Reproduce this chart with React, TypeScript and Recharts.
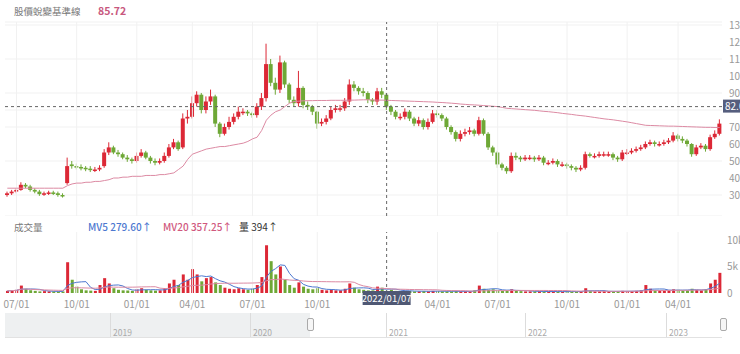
import { ComposedChart, Bar, Line, XAxis, YAxis, CartesianGrid, ReferenceLine, Cell } from "recharts";

// one slot ~ one trading week, 2020/06 .. 2023/05
const opens = [
  30, 31, 32, 33, 36, 35, 33, 32, 30.5, 31, 31.5, 31, 30,
  37, 48, 47, 46.5, 46, 45.5, 45, 45,
  47, 55, 58, 55, 54, 52, 51, 50, 53, 55,
  52, 50, 49, 50, 53, 58, 61, 58, 75, 76,
  84, 89, 80, 85, 88, 72, 66, 70, 73, 76,
  79, 79, 78, 77, 82, 87, 107, 96, 92, 108,
  95, 86, 84, 93, 83, 82, 79, 72, 73, 75,
  80, 81, 81, 85, 95, 93, 91, 90, 86, 85,
  91, 89, 82, 79, 76, 76, 79, 75, 72, 74,
  70, 73, 78, 77, 75, 70, 67, 63, 66, 67,
  68, 66, 74, 66, 58, 55, 48, 46, 44, 53,
  52, 51, 52, 52, 51, 52, 49, 49, 50, 48,
  48, 47, 46, 45, 46, 54, 53, 53, 54, 54,
  54, 52, 51, 55, 55, 56, 57, 58, 60, 61,
  60, 60, 61, 62, 65, 63, 62, 60, 54, 58,
  59, 57, 64, 66,
];
const highs = [
  32, 33, 34, 37.5, 37, 36, 34, 33, 32, 32.5, 32.5, 32, 31,
  52, 50, 48.5, 48, 47, 47, 46.5, 47.5,
  57, 61, 59, 56.5, 55, 53.5, 52, 55, 57, 56,
  53, 51.5, 51.5, 55, 60, 63, 62, 78, 80, 88,
  91, 90, 88, 92, 89, 73, 72, 76, 78, 82,
  81, 80, 79, 84, 90, 119, 110, 99, 112, 109,
  96, 88, 103, 94, 85, 83, 79.5, 75, 77, 82,
  83, 83, 87, 98, 97, 94, 93, 91, 87, 93,
  93, 90, 83, 80, 78, 81, 80, 76, 76, 75,
  75, 80, 80, 78, 76, 71, 68, 68, 69, 70,
  69, 76, 75, 67, 59, 56, 49, 47, 55, 55,
  53, 53.5, 53.5, 53, 53.5, 53, 50.5, 51.5, 51, 49.5,
  49, 48, 47, 47.5, 55.5, 55, 54.5, 55.5, 55.5, 55.5,
  55, 53, 56.5, 57, 57.5, 58.5, 59.5, 61.5, 62.5, 62,
  61.5, 62.5, 63.5, 67, 66, 64.5, 63, 60.5, 59.5, 60.5,
  60, 65.5, 68, 74.5,
];
const lows = [
  29, 30, 31, 32.5, 34, 32, 31, 29.5, 29.5, 30, 30, 29, 28.5,
  36, 45.5, 45, 44.5, 44, 43.5, 43.5, 44,
  46, 53.5, 54, 52.5, 51, 49.5, 48.5, 49, 52, 51,
  48.5, 47.5, 48, 49, 52, 57, 56, 57, 72, 75,
  82, 78, 78, 83, 70, 64, 65, 68.5, 71.5, 74.5,
  77, 76.5, 75.5, 75.5, 80, 85, 94, 89, 90, 93,
  84, 82, 82, 81, 80, 77, 69, 70.5, 71.5, 74,
  78.5, 79, 79.5, 83, 91, 89, 88, 84, 83, 83,
  87, 80, 77, 74.5, 74, 74.5, 73.5, 70.5, 70.5, 68.5,
  68.5, 72, 75.5, 73.5, 68.5, 65.5, 61.5, 61.5, 64.5, 65.5,
  64.5, 65, 65, 56.5, 53, 46, 44.5, 42.5, 43, 50.5,
  49.5, 50, 50.5, 49.5, 50, 47.5, 47.5, 48, 46.5, 46.5,
  45.5, 44.5, 43.5, 44, 45, 52, 51.5, 52, 52.5, 52.5,
  50.5, 49.5, 50, 53.5, 54, 55, 56, 57, 59, 58.5,
  58.5, 59, 60, 61, 61.5, 60.5, 58.5, 52.5, 53, 57,
  55.5, 56, 63, 65,
];
const closes = [
  31, 32, 33, 36, 35, 33, 32, 30.5, 31, 31.5, 31, 30, 29.5,
  47, 47, 46.5, 46, 45.5, 45, 45, 46,
  55, 58, 55, 54, 52, 51, 50, 53, 55, 52,
  50, 49, 50, 53, 58, 61, 57, 75, 76, 84,
  89, 80, 85, 88, 72, 66, 70, 73, 76, 79,
  79, 78, 77, 82, 87, 107, 96, 92, 108, 95,
  86, 84, 93, 83, 82, 79, 72, 73, 75, 80,
  81, 81, 85, 95, 93, 91, 90, 86, 85, 91,
  89, 82, 79, 76, 76, 79, 75, 72, 74, 70,
  73, 78, 77, 75, 70, 67, 63, 66, 67, 68,
  66, 74, 66, 58, 55, 48, 46, 44, 53, 52,
  51, 52, 52, 51, 52, 49, 49, 50, 48, 48,
  47, 46, 45, 46, 54, 53, 53, 54, 54, 54,
  52, 51, 55, 55, 56, 57, 58, 60, 61, 60,
  60, 61, 62, 65, 63, 62, 60, 54, 58, 59,
  57, 64, 66, 72,
];
const baseLine = [
  34, 34, 34, 34, 34, 34, 34, 34, 34, 34, 34, 34, 34,
  35.5, 36.5, 37, 37, 37.5, 37.5, 38, 38,
  38.5, 39, 40, 40, 40.5, 40.5, 41, 41, 41, 41.5,
  41.5, 41.5, 42, 42, 42.5, 43, 45, 47, 51, 54,
  55, 56, 57, 57.5, 58, 58.5, 58.5, 59, 59.5, 60,
  60.5, 61.5, 63, 64, 68, 74, 77, 79, 80, 82,
  84, 85, 85.2, 85.4, 85.5, 85.5, 85.6, 85.6, 85.6, 85.7,
  85.7, 85.7, 85.7, 85.8, 85.8, 85.9, 86, 86, 85.9, 85.8,
  85.8, 85.72, 85.6, 85.5, 85.4, 85.3, 85.2, 85.1, 85, 84.9,
  84.8, 84.7, 84.5, 84.4, 84.2, 84, 83.8, 83.5, 83.3, 83.1,
  83, 82.8, 82.6, 82.4, 82.2, 82, 81.5, 81, 80.8, 80.6,
  80.4, 80.2, 80, 79.8, 79.5, 79.2, 79, 78.7, 78.4, 78,
  77.7, 77.4, 77, 76.7, 76.4, 76, 75.6, 75.2, 74.8, 74.5,
  74.2, 73.8, 73.4, 73, 72.5, 72, 71.5, 71, 70.9, 70.8,
  70.7, 70.6, 70.5, 70.5, 70.4, 70.3, 70.2, 70.1, 70, 69.9,
  69.8, 69.8, 69.7, 69.7,
];
const volumes = [
  400, 500, 600, 1400, 800, 500, 400, 300, 350, 300, 300, 250, 300,
  5800, 2500, 1200, 700, 500, 450, 400, 1500,
  2800, 1800, 900, 600, 500, 450, 400, 700, 900, 600,
  500, 450, 500, 900, 1800, 2500, 1500, 3500, 2500, 4500,
  3500, 2200, 2800, 3000, 2000, 1500, 1000, 800, 700, 900,
  700, 600, 800, 1500, 3000, 9000, 6000, 3500, 5000, 2500,
  1500, 1000, 2000, 1200, 800, 700, 900, 600, 500, 600,
  500, 500, 800, 1800, 1000, 700, 600, 500, 500, 1200,
  1000, 394, 600, 400, 350, 400, 350, 300, 300, 350,
  300, 400, 350, 300, 300, 300, 350, 300, 300, 300,
  500, 1400, 800, 600, 700, 500, 400, 500, 700, 400,
  350, 300, 300, 300, 300, 250, 250, 300, 250, 250,
  300, 250, 250, 300, 900, 400, 300, 300, 350, 300,
  300, 300, 400, 350, 350, 400, 500, 1500, 800, 500,
  500, 450, 500, 700, 600, 500, 500, 800, 600, 500,
  700, 1800, 2500, 3800,
];

const tickSlots = [2, 15, 28, 40, 53, 67, 93, 106, 121, 134, 145];
const tickLabels = ["07/01", "10/01", "01/01", "04/01", "07/01", "10/01", "04/01", "07/01", "10/01", "01/01", "04/01"];
const priceTicks = [20, 30, 40, 50, 60, 70, 80, 90, 100, 110, 120, 130];
const volTicks = [0, 5000, 10000];
const navYears = ["2019", "2020", "2021", "2022", "2023"];
const navYearX = [110, 250, 386, 525, 666];

const cursorSlot = 82;
const cursorDate = "2022/01/07";
const cursorPrice = 82;

const RED = "#dc2836";
const GREEN = "#6ea836";
const PINK = "#dc8aa3";
const BLUE = "#4d78d0";
const FONT = '"Noto Sans CJK TC", "Noto Sans", sans-serif';

const movingAvg = (arr: number[], n: number) =>
  arr.map((_, i) => {
    const s = arr.slice(Math.max(0, i - n + 1), i + 1);
    return s.reduce((a, b) => a + b, 0) / s.length;
  });

const mv5 = movingAvg(volumes, 5);
const mv20 = movingAvg(volumes, 20);

const rows = closes.map((c, i) => ({
  i,
  open: opens[i],
  high: highs[i],
  low: lows[i],
  close: c,
  base: baseLine[i],
  vol: volumes[i],
  mv5: mv5[i],
  mv20: mv20[i],
}));

function Candle(props: any) {
  const { x, y, width, height, payload } = props;
  const { open, close, high, low } = payload;
  const top = Math.min(y, y + height);
  const h = Math.abs(height);
  const yOf = (v: number) => top + ((high - v) / (high - low)) * h;
  const color = close >= open ? RED : GREEN;
  const cx = x + width / 2;
  const bTop = yOf(Math.max(open, close));
  const bBot = yOf(Math.min(open, close));
  return (
    <g>
      <line x1={cx} x2={cx} y1={top} y2={top + h} stroke={color} strokeWidth={1} />
      <rect x={x} y={bTop} width={width} height={Math.max(1.5, bBot - bTop)} fill={color} />
    </g>
  );
}

const axisTick = { fontSize: 10, fill: "#999", fontFamily: FONT };

export default function App() {
  return (
    <div style={{ position: "absolute", left: 0, top: 0, width: 740, height: 354, background: "#fff", fontFamily: FONT }}>
      <div style={{ position: "absolute", left: 14, top: 4, fontSize: 9.5, color: "#777" }}>股價蛻變基準線</div>
      <div style={{ position: "absolute", left: 98, top: 3, fontSize: 10.5, color: "#c8587e", fontWeight: 600 }}>85.72</div>

      <div style={{ position: "absolute", left: 0, top: 0 }}>
        <ComposedChart width={740} height={216} data={rows} margin={{ top: 22, right: 0, left: 5, bottom: 0 }} barSize={4}>
          <CartesianGrid vertical={false} stroke="#f1f1f1" />
          <XAxis dataKey="i" hide />
          <YAxis
            orientation="right"
            width={18}
            domain={[17.65, 131.76]}
            ticks={priceTicks}
            tick={axisTick}
            tickSize={0}
            tickMargin={7}
            axisLine={false}
            tickLine={false}
            allowDataOverflow
            // the cursor price badge sits over the 80 label
            tickFormatter={(v: number) => (Math.abs(v - cursorPrice) < 5 ? "" : String(v))}
          />
          {tickSlots.map((s) => (
            <ReferenceLine key={s} x={s} stroke="#f1f1f1" />
          ))}
          <Bar dataKey={(d: any) => [d.low, d.high]} shape={Candle} isAnimationActive={false} />
          <Line type="linear" dataKey="base" stroke={PINK} strokeWidth={1} dot={false} isAnimationActive={false} />
          <ReferenceLine x={cursorSlot} stroke="#666" strokeDasharray="3 3" />
          <ReferenceLine
            y={cursorPrice}
            stroke="#666"
            strokeDasharray="3 3"
            label={(p: any) => {
              const vb = p.viewBox;
              return (
                <g>
                  <rect x={vb.x + vb.width + 1} y={vb.y - 7} width={22} height={13} fill="#565e7e" />
                  <text x={vb.x + vb.width + 3} y={vb.y + 3.5} fontSize={10} fill="#fff" fontFamily={FONT}>
                    {cursorPrice.toFixed(1)}
                  </text>
                </g>
              );
            }}
          />
        </ComposedChart>
      </div>

      <div style={{ position: "absolute", left: 14, top: 220, fontSize: 9.5, color: "#777" }}>成交量</div>
      <div style={{ position: "absolute", left: 88, top: 219, fontSize: 10, color: BLUE, fontWeight: 500 }}>MV5 279.60↑</div>
      <div style={{ position: "absolute", left: 163, top: 219, fontSize: 10, color: "#d0587e", fontWeight: 500 }}>MV20 357.25↑</div>
      <div style={{ position: "absolute", left: 239, top: 219, fontSize: 10, color: "#333" }}>量 394↑</div>

      <div style={{ position: "absolute", left: 0, top: 222 }}>
        <ComposedChart width={740} height={91} data={rows} margin={{ top: 10, right: 0, left: 5, bottom: 0 }} barSize={3}>
          <XAxis
            dataKey="i"
            interval={0}
            height={20}
            tickSize={0}
            tickMargin={8}
            axisLine={false}
            tickLine={false}
            tick={axisTick}
            tickFormatter={(v: number) => {
              const k = tickSlots.indexOf(v);
              return k >= 0 ? tickLabels[k] : "";
            }}
          />
          <YAxis
            orientation="right"
            width={18}
            domain={[0, 11500]}
            ticks={volTicks}
            tick={axisTick}
            tickSize={0}
            tickMargin={5}
            axisLine={false}
            tickLine={false}
            tickFormatter={(v: number) => (v === 0 ? "0" : v / 1000 + "k")}
          />
          {tickSlots.map((s) => (
            <ReferenceLine key={s} x={s} stroke="#f1f1f1" />
          ))}
          <Bar dataKey="vol" isAnimationActive={false}>
            {rows.map((r) => (
              <Cell key={r.i} fill={r.close >= r.open ? RED : GREEN} />
            ))}
          </Bar>
          <Line type="linear" dataKey="mv5" stroke={BLUE} strokeWidth={1} dot={false} isAnimationActive={false} />
          <Line type="linear" dataKey="mv20" stroke={PINK} strokeWidth={1} dot={false} isAnimationActive={false} />
          <ReferenceLine
            x={cursorSlot}
            stroke="#666"
            strokeDasharray="3 3"
            label={(p: any) => {
              const vb = p.viewBox;
              const cx = vb.x;
              const by = vb.y + vb.height;
              return (
                <g>
                  <rect x={cx - 24} y={by - 2} width={48} height={14} fill="#4f5874" />
                  <text x={cx} y={by + 8.5} textAnchor="middle" fontSize={9.5} fill="#fff" fontFamily={FONT}>
                    {cursorDate}
                  </text>
                </g>
              );
            }}
          />
        </ComposedChart>
      </div>

      <div style={{ position: "absolute", left: 5, top: 313, width: 717, height: 24, borderBottom: "1px solid #e2e2e2" }}>
        <div style={{ position: "absolute", left: 0, top: 0, width: 305, height: 24, background: "#eef0f1" }} />
        {navYears.map((y, k) => (
          <div key={y}>
            <div style={{ position: "absolute", left: navYearX[k] - 5, top: 0, width: 1, height: 24, background: "#dcdcdc" }} />
            <div style={{ position: "absolute", left: navYearX[k] - 2, top: 13, fontSize: 8.5, color: "#aaa" }}>{y}</div>
          </div>
        ))}
        <div style={{ position: "absolute", left: 302, top: 5, width: 5, height: 11, border: "1px solid #aaa", borderRadius: 2, background: "#f6f6f6" }} />
        <div style={{ position: "absolute", left: 715, top: 5, width: 5, height: 11, border: "1px solid #aaa", borderRadius: 2, background: "#f6f6f6" }} />
      </div>
    </div>
  );
}
